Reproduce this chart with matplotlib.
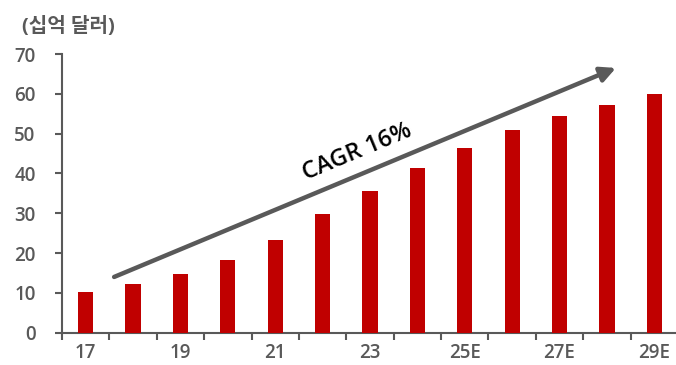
import matplotlib
matplotlib.use("Agg")
import matplotlib.pyplot as plt

# Market size by year (billion USD), E = estimate
years = ["17", "18", "19", "20", "21", "22", "23", "24", "25E", "26E", "27E", "28E", "29E"]
values = [10.2, 12.3, 14.7, 18.2, 23.2, 29.7, 35.5, 41.3, 46.5, 50.9, 54.4, 57.3, 59.9]
tick_labels = ["17", "", "19", "", "21", "", "23", "", "25E", "", "27E", "", "29E"]
unit_label = "(십억 달러)"
cagr_label = "CAGR 16%"

plt.rcParams["font.family"] = ["Open Sans", "Noto Sans CJK KR", "DejaVu Sans"]

W, H = 676, 365
fig = plt.figure(figsize=(W / 100, H / 100), dpi=100)
ax = fig.add_axes([62 / W, 32.3 / H, 616 / W, 278.7 / H])

gray = "#595959"
red = "#C00000"

x = list(range(len(years)))
ax.bar(x, values, width=0.32, color=red, zorder=3)

ax.set_xlim(-0.5, len(years) - 0.5)
ax.set_ylim(0, 70)
ax.set_yticks(range(0, 71, 10))
ax.set_yticklabels([str(v) for v in range(0, 71, 10)])

# category labels centred on bars, tick marks on the boundaries
ax.set_xticks(x)
ax.set_xticklabels(tick_labels)
ax.tick_params(axis="x", which="major", length=0, pad=7.5)
ax.set_xticks([i - 0.5 for i in range(len(years) + 1)], minor=True)
ax.tick_params(axis="x", which="minor", length=5, width=1.5, color=gray, direction="out")

ax.tick_params(axis="y", length=5, width=1.5, color=gray, pad=14)
for lab in ax.get_xticklabels() + ax.get_yticklabels():
    lab.set_fontsize(13.5)
    lab.set_fontweight("semibold")
    lab.set_color(gray)

for side in ("top", "right"):
    ax.spines[side].set_visible(False)
for side in ("left", "bottom"):
    ax.spines[side].set_color(gray)
    ax.spines[side].set_linewidth(1.5)

# growth arrow
ax.annotate("", xy=(11.19, 66.5), xytext=(0.6, 14.0),
            arrowprops=dict(arrowstyle="-|>,head_length=0.9,head_width=0.45",
                            color=gray, lw=3.2, shrinkA=0, shrinkB=0),
            zorder=4)
ax.text(5.73, 45.3, cagr_label, rotation=22.6, rotation_mode="anchor",
        ha="center", va="center", fontsize=17, color="black", fontweight="semibold")

fig.text(22 / W, 1 - 27 / H, unit_label, ha="left", va="center",
         fontsize=14.5, fontweight="bold", color=gray)

fig.savefig("out.png", dpi=100)
